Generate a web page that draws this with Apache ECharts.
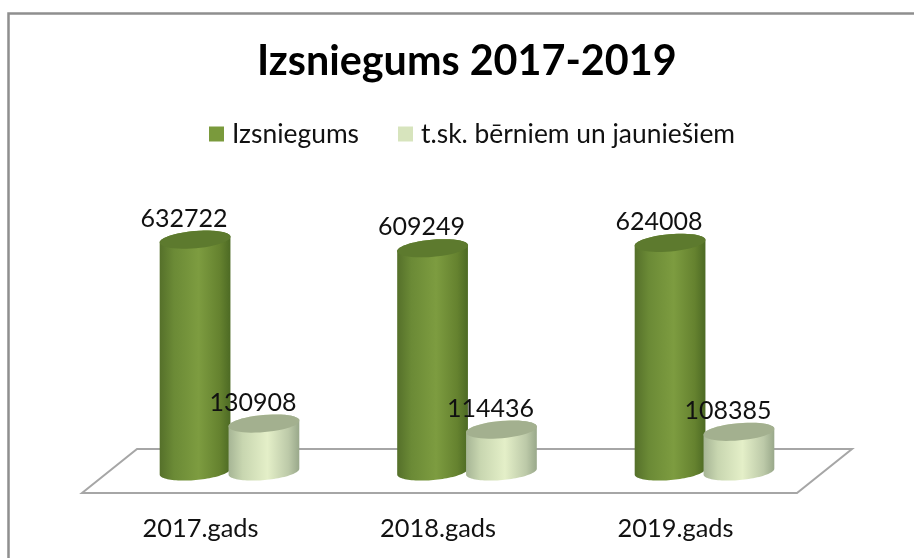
<!DOCTYPE html>
<html><head><meta charset="utf-8">
<style>html,body{margin:0;padding:0;background:#fff}#c{width:914px;height:558px}</style>
<script src="https://cdn.jsdelivr.net/npm/echarts@6/dist/echarts.min.js"></script>
</head><body><div id="c"></div>
<script>
var categories = ['2017.gads', '2018.gads', '2019.gads'];
var izsniegums = [632722, 609249, 624008];
var berniem = [130908, 114436, 108385];
var seriesNames = ['Izsniegums', 't.sk. bērniem un jauniešiem'];
var chartTitle = 'Izsniegums 2017-2019';

var FONT = 'Lato, Carlito, "Open Sans", sans-serif';
var chart = echarts.init(document.getElementById('c'), null, {renderer: 'canvas'});

function arc(cx, cy, a, b, th, t0, t1) {
  var pts = [], n = 48, c = Math.cos(th), s = Math.sin(th);
  for (var i = 0; i <= n; i++) {
    var t = t0 + (t1 - t0) * i / n;
    var ex = a * Math.cos(t), ey = b * Math.sin(t);
    pts.push([cx + ex * c - ey * s, cy + ex * s + ey * c]);
  }
  return pts;
}
function hGrad(stops) {
  return new echarts.graphic.LinearGradient(0, 0, 1, 0, stops.map(function (s) { return {offset: s[0], color: s[1]}; }));
}
function cylinder(dx, side, top) {
  return function (params, api) {
    var idx = api.value(0), val = api.value(1);
    var pT = api.coord([idx, val]), pB = api.coord([idx, 0]);
    var band = api.size([1, 0])[0];
    var a = band * 0.1495, b = 8.6, th = -5 * Math.PI / 180;
    var cx = pT[0] + band * dx;
    var topE = arc(cx, pT[1], a, b, th, 0, Math.PI * 2);
    var bottomArc = arc(cx, pB[1], a, b, th, 0, Math.PI);
    var topUpper = arc(cx, pT[1], a, b, th, Math.PI, Math.PI * 2);
    return {
      type: 'group',
      children: [
        {type: 'polygon', shape: {points: bottomArc.concat(topUpper)}, style: {fill: hGrad(side)}},
        {type: 'polygon', shape: {points: topE}, style: {fill: top}},
        {type: 'text', x: cx - 11, y: pT[1] - 21, style: {text: String(val), fill: '#111', font: '25px ' + FONT, align: 'center', verticalAlign: 'middle'}}
      ]
    };
  };
}
var darkSide = [[0, '#55702a'], [0.2, '#6b8a36'], [0.55, '#7d9c40'], [0.85, '#65822f'], [1, '#4d6a24']];
var lightSide = [[0, '#a6b595'], [0.2, '#c8d6b0'], [0.55, '#e4efc8'], [0.85, '#bcc9a8'], [1, '#99a88a']];

function dataOf(values) { return values.map(function (v, i) { return [i, v]; }); }

chart.setOption({
  animation: false,
  backgroundColor: '#fff',
  title: {text: chartTitle, left: 252, top: 36, textStyle: {fontFamily: FONT, fontSize: 41.3, fontWeight: 'bold', color: '#000'}},
  legend: {
    top: 116, left: 204, itemWidth: 15, itemHeight: 15, itemGap: 39, icon: 'rect',
    textStyle: {fontFamily: FONT, fontSize: 26.4, color: '#111', padding: [0, 0, 0, 3]},
    data: seriesNames
  },
  grid: {left: 110.75, right: 90.75, top: 215, bottom: 86.5},
  xAxis: {
    type: 'category', data: categories,
    axisLine: {show: false}, axisTick: {show: false}, splitLine: {show: false},
    axisLabel: {fontFamily: FONT, fontSize: 25.4, color: '#111', margin: 45, padding: [0, 58, 0, 0]}
  },
  yAxis: {type: 'value', min: 0, max: 700000, show: false},
  graphic: [
    {type: 'polyline', z: 0, silent: true, shape: {points: [[8.5, 560], [8.5, 13.5], [916, 13.5]]}, style: {fill: 'none', stroke: '#8f8f8f', lineWidth: 2.5}},
    {type: 'polygon', z: 0, silent: true, shape: {points: [[82, 493], [137, 449], [852, 449], [797, 493]]}, style: {fill: '#fff', stroke: '#a6a6a6', lineWidth: 2}}
  ],
  series: [
    {name: seriesNames[0], type: 'custom', itemStyle: {color: '#7a9a3c'}, data: dataOf(izsniegums), encode: {x: 0, y: 1}, renderItem: cylinder(-0.145, darkSide, '#5d7a2e'), clip: false},
    {name: seriesNames[1], type: 'custom', itemStyle: {color: '#d7e4bd'}, data: dataOf(berniem), encode: {x: 0, y: 1}, renderItem: cylinder(0.145, lightSide, '#a3b08f'), clip: false}
  ]
});
</script></body></html>
